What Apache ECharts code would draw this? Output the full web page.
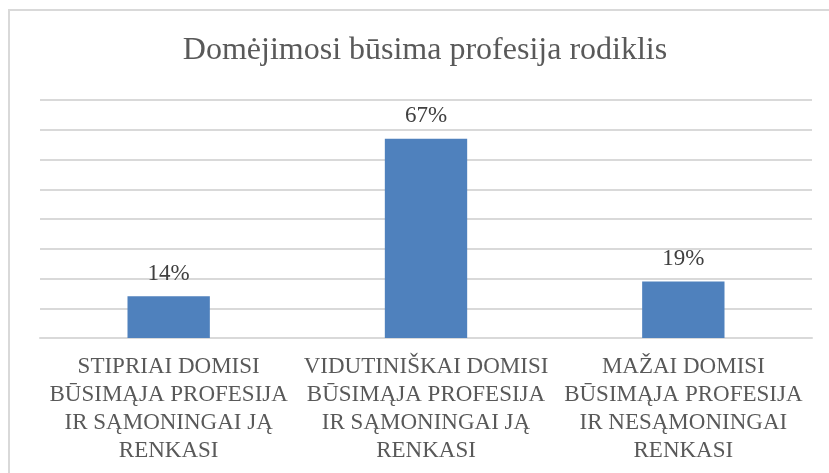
<!DOCTYPE html>
<html>
<head>
<meta charset="utf-8">
<script src="https://cdn.jsdelivr.net/npm/echarts@6/dist/echarts.min.js"></script>
<style>
  html, body { margin: 0; padding: 0; background: #fff; }
  #chart { width: 829px; height: 473px; }
</style>
</head>
<body>
<div id="chart"></div>
<script>
// duomenys
const categories = [
  'STIPRIAI DOMISI\nBŪSIMĄJA PROFESIJA\nIR SĄMONINGAI JĄ\nRENKASI',
  'VIDUTINIŠKAI DOMISI\nBŪSIMĄJA PROFESIJA\nIR SĄMONINGAI JĄ\nRENKASI',
  'MAŽAI DOMISI\nBŪSIMĄJA PROFESIJA\nIR NESĄMONINGAI\nRENKASI'
]
const values = [14, 67, 19]
const titleText = 'Domėjimosi būsima profesija rodiklis'

const serif = '"Liberation Serif", "Times New Roman", serif'

const myChart = echarts.init(document.getElementById('chart'))
myChart.setOption({
  animation: false,
  title: {
    text: titleText,
    left: 425,
    textAlign: 'center',
    top: 35,
    padding: 0,
    textStyle: {
      fontFamily: serif,
      fontSize: 32,
      fontWeight: 'normal',
      color: '#595959'
    }
  },
  // rėmelis aplink diagramą
  graphic: [{
    type: 'rect',
    shape: { x: 9, y: 10, width: 840, height: 480 },
    style: { fill: 'none', stroke: '#d9d9d9', lineWidth: 2 },
    silent: true
  }],
  grid: { left: 40, right: 17, top: 100, bottom: 135 },
  xAxis: {
    type: 'category',
    data: categories,
    axisLine: { lineStyle: { color: '#d9d9d9', width: 2 } },
    axisTick: { show: false },
    axisLabel: {
      interval: 0,
      margin: 15,
      fontFamily: serif,
      fontSize: 23,
      lineHeight: 28,
      color: '#595959',
      align: 'center'
    }
  },
  yAxis: {
    type: 'value',
    min: 0,
    max: 80,
    interval: 10,
    axisLabel: { show: false },
    axisLine: { show: false },
    axisTick: { show: false },
    splitLine: { lineStyle: { color: '#d9d9d9', width: 2 } }
  },
  series: [{
    type: 'bar',
    data: values,
    barCategoryGap: '68%',
    itemStyle: { color: '#4f81bd' },
    label: {
      show: true,
      position: 'top',
      distance: 11,
      formatter: '{c}%',
      fontFamily: serif,
      fontSize: 23,
      color: '#404040'
    }
  }]
})
</script>
</body>
</html>
